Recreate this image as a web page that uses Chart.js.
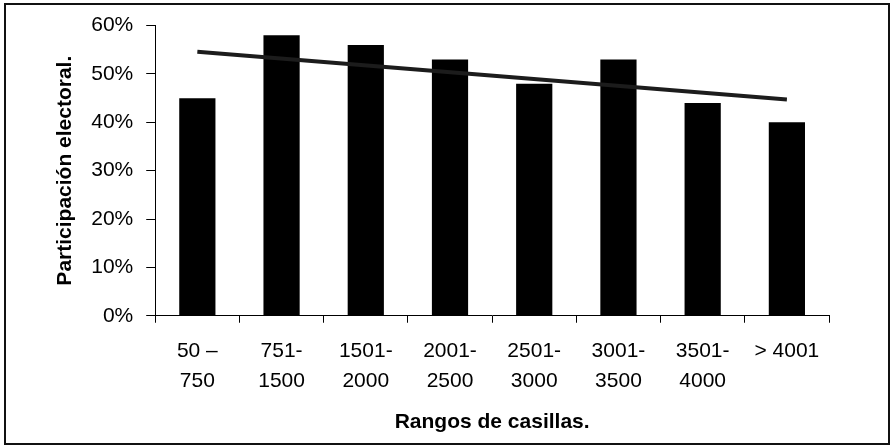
<!DOCTYPE html>
<html>
<head>
<meta charset="utf-8">
<script src="https://cdn.jsdelivr.net/npm/chart.js@4/dist/chart.umd.min.js"></script>
<style>
  html, body { margin: 0; padding: 0; background: #fff; }
  #frame {
    position: absolute; left: 4px; top: 3px;
    width: 882px; height: 438px;
    border: 2px solid #111;
  }
  #wrap { position: absolute; left: 0; top: 0; width: 893px; height: 448px; }
</style>
</head>
<body>
<div id="frame"></div>
<div id="wrap"><canvas id="myChart"></canvas></div>
<script>
// categories (two-line labels)
const categories = [
    ['50 –', '750'],
    ['751-', '1500'],
    ['1501-', '2000'],
    ['2001-', '2500'],
    ['2501-', '3000'],
    ['3001-', '3500'],
    ['3501-', '4000'],
    ['> 4001']
];

// participation per range (%)
const participation = [45, 58, 56, 53, 48, 53, 44, 40];

// trend line, read at first and last category
const trend = [54.6, null, null, null, null, null, null, 44.7];

const yTicks = [0, 10, 20, 30, 40, 50, 60];

const ctx = document.getElementById('myChart').getContext('2d');

const chart = new Chart(ctx, {
    type: 'bar',
    data: {
        labels: categories,
        datasets: [
            {
                type: 'line',
                label: 'Tendencia',
                data: trend,
                spanGaps: true,
                borderColor: '#1c1c1c',
                borderWidth: 4,
                pointRadius: 0,
                fill: false,
                order: 0
            },
            {
                label: 'Participación',
                data: participation,
                backgroundColor: '#000',
                borderWidth: 0,
                barPercentage: 0.43,
                categoryPercentage: 1.0,
                order: 1
            }
        ]
    },
    options: {
        responsive: true,
        maintainAspectRatio: false,
        animation: false,
        layout: {
            padding: { left: 50, top: 7, right: 64, bottom: 13 }
        },
        plugins: {
            legend: { display: false },
            tooltip: { enabled: false }
        },
        scales: {
            x: {
                grid: {
                    offset: true,
                    drawOnChartArea: false,
                    drawTicks: true,
                    tickLength: 7,
                    color: '#000'
                },
                border: { display: true, color: '#000', width: 1 },
                ticks: {
                    color: '#000',
                    font: { family: 'Liberation Sans', size: 21, lineHeight: 1.43 },
                    padding: 13,
                    maxRotation: 0,
                    autoSkip: false
                },
                title: {
                    display: true,
                    text: 'Rangos de casillas.',
                    color: '#000',
                    font: { family: 'Liberation Sans', size: 21, weight: 'bold' },
                    padding: { top: 1, bottom: 0 }
                }
            },
            y: {
                min: 0,
                max: 60,
                afterBuildTicks: (axis) => {
                    axis.ticks = yTicks.map(v => ({ value: v }));
                },
                grid: {
                    drawOnChartArea: false,
                    drawTicks: true,
                    tickLength: 9,
                    color: '#000'
                },
                border: { display: true, color: '#000', width: 1 },
                ticks: {
                    color: '#000',
                    font: { family: 'Liberation Sans', size: 21 },
                    padding: 13,
                    callback: (v) => v + '%'
                },
                title: {
                    display: true,
                    text: 'Participación electoral.',
                    color: '#000',
                    font: { family: 'Liberation Sans', size: 21, weight: 'bold' },
                    padding: { top: 3, bottom: 0 }
                }
            }
        }
    }
});
</script>
</body>
</html>
